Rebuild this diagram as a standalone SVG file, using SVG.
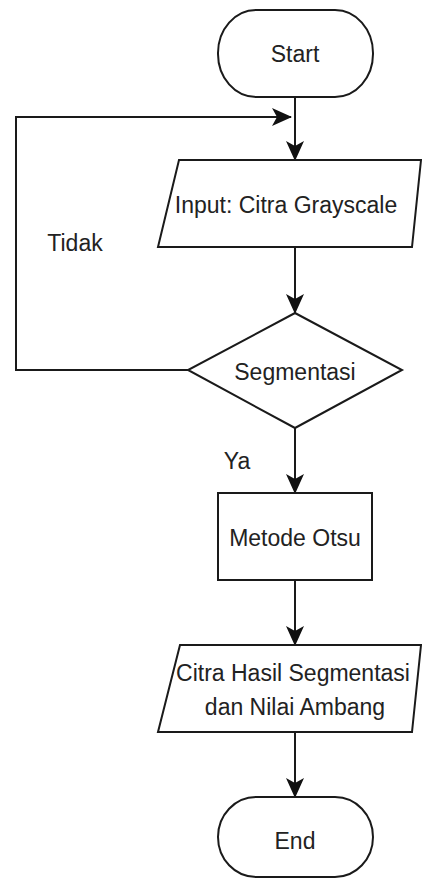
<svg xmlns="http://www.w3.org/2000/svg" width="422" height="878" viewBox="0 0 422 878">
<style>
.s{fill:#fff;stroke:#1a1a1a;stroke-width:2}
.t{font-family:"Liberation Sans",Arial,sans-serif;font-size:23px;fill:#222;text-anchor:middle;dominant-baseline:central}
.c{fill:none;stroke:#1a1a1a;stroke-width:2}
</style>
<defs>
<marker id="a" markerUnits="userSpaceOnUse" markerWidth="20" markerHeight="18" viewBox="0 0 20 18" refX="19" refY="9" orient="auto">
<path d="M0,0 L20,9 L0,18 L5,9 Z" fill="#111"/>
</marker>
</defs>
<g id="connectors">
<line class="c" x1="295" y1="97" x2="295" y2="160" marker-end="url(#a)"/>
<polyline class="c" points="188,370 16,370 16,117 291,117" marker-end="url(#a)"/>
<line class="c" x1="295" y1="247" x2="295" y2="313" marker-end="url(#a)"/>
<line class="c" x1="295" y1="428" x2="295" y2="493" marker-end="url(#a)"/>
<line class="c" x1="295" y1="580" x2="295" y2="645" marker-end="url(#a)"/>
<line class="c" x1="295" y1="732" x2="295" y2="797" marker-end="url(#a)"/>
<text class="t" x="75" y="243">Tidak</text>
<text class="t" x="237" y="461">Ya</text>
</g>
<g id="start">
<rect class="s" x="218" y="10" width="155" height="87" rx="38" ry="43"/>
<text class="t" x="295" y="54">Start</text>
</g>
<g id="input">
<polygon class="s" points="179,160 421,160 412,247 158,247"/>
<text class="t" x="286" y="205">Input: Citra Grayscale</text>
</g>
<g id="decision">
<polygon class="s" points="295,313 402,370 295,428 188,370"/>
<text class="t" x="295" y="372">Segmentasi</text>
</g>
<g id="otsu">
<rect class="s" x="218" y="493" width="154" height="87"/>
<text class="t" x="295" y="538">Metode Otsu</text>
</g>
<g id="output">
<polygon class="s" points="180,645 421,645 412,732 158,732"/>
<text class="t" x="293" y="673">Citra Hasil Segmentasi</text>
<text class="t" x="295" y="707">dan Nilai Ambang</text>
</g>
<g id="end">
<rect class="s" x="218" y="797" width="155" height="80" rx="38" ry="40"/>
<text class="t" x="295" y="841">End</text>
</g>
</svg>
